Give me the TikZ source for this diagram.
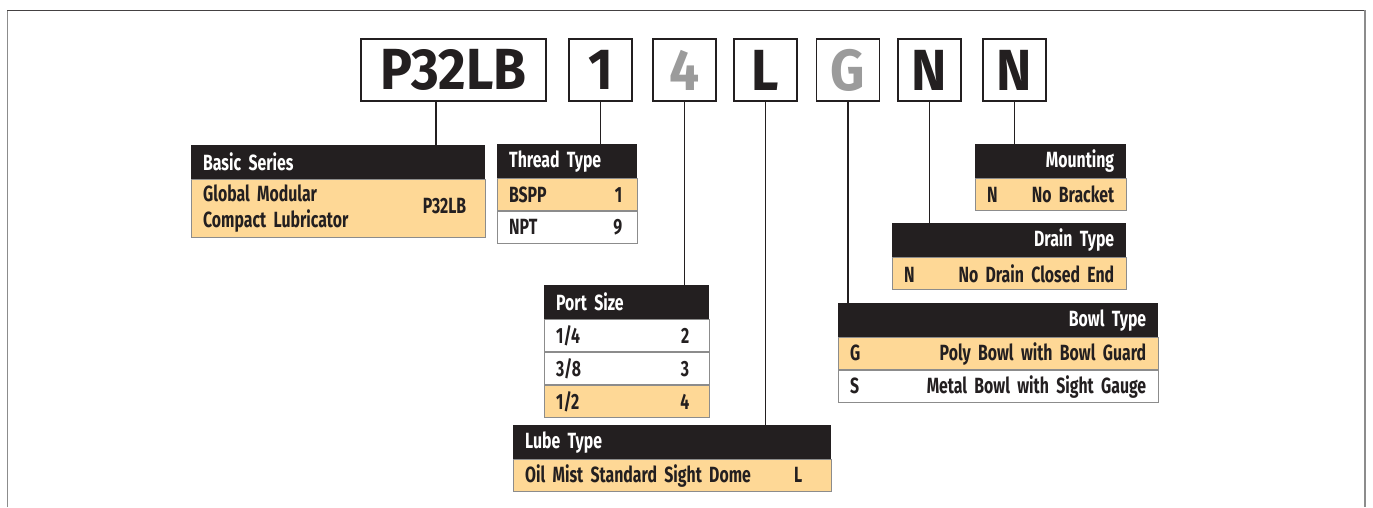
\documentclass[tikz,border=0pt]{standalone}
\usepackage{fontspec}
\setmainfont{Fira Sans}[FakeStretch=0.72]
\newfontfamily\codefont{Fira Sans}[FakeStretch=0.92]
\usetikzlibrary{positioning}
\definecolor{ink}{RGB}{35,31,32}
\definecolor{band}{RGB}{254,216,150}
\definecolor{rule}{RGB}{140,140,140}
\definecolor{dim}{RGB}{155,155,155}

\begin{document}
\begin{tikzpicture}[
    x=1pt, y=-1pt,
    codebox/.style={draw=ink, line width=1.6pt, minimum width=63pt, minimum height=62pt, inner sep=0pt, text=ink, font=\codefont\bfseries\fontsize{58}{58}\selectfont},
    hdr/.style={fill=ink, text=white, minimum height=34pt, inner xsep=12pt, inner ysep=0pt, align=left, anchor=north west, font=\bfseries\fontsize{22}{23}\selectfont},
    hdrr/.style={hdr, align=right},
    rowo/.style={fill=band, draw=rule, line width=0.8pt, minimum height=32pt, inner xsep=12pt, inner ysep=0pt, align=left, text=ink, font=\bfseries\fontsize{22}{23}\selectfont},
    roww/.style={rowo, fill=white},
    link/.style={draw=ink, line width=1.8pt},
]
\useasboundingbox (0,0) rectangle (1373,507);

% frame
\draw[rule, line width=1pt] (7,507) -- (7,10);
\draw[ink!85, line width=1pt] (7,10) -- (1365,10);
\draw[rule, line width=1.2pt] (1365,10) -- (1365,507);

% model code
\node[codebox, minimum width=185pt] (cSeries) at (453.5,70) {P32LB};
\node[codebox] (cThread) at (600.5,70) {1};
\node[codebox, text=dim] (cPort) at (684.5,70) {4};
\node[codebox] (cLube) at (765.5,70) {L};
\node[codebox, text=dim] (cBowl) at (848,70) {G};
\node[codebox] (cDrain) at (929.5,70) {N};
\node[codebox] (cMount) at (1014.5,70) {N};

% basic series
\node[hdr, text width=270pt] (hdSeries) at (191,145) {Basic Series};
\node[rowo, text width=270pt, minimum height=58pt, below=0pt of hdSeries, font=\bfseries\fontsize{22}{26}\selectfont] (rSeries)
    {\begin{tabular}{@{}l@{}}Global Modular\\Compact Lubricator\end{tabular}\hfill P32LB\kern7pt};

% thread type
\node[hdr, text width=116pt] (hdThread) at (497,144) {Thread Type};
\node[rowo, text width=116pt, below=0pt of hdThread] (rBspp) {BSPP\hfill 1\kern3pt};
\node[roww, text width=116pt, below=0pt of rBspp] (rNpt) {NPT\hfill 9\kern3pt};

% port size
\node[hdr, text width=141pt] (hdPort) at (544,285) {Port Size};
\node[roww, text width=141pt, below=0pt of hdPort] (rQuarter) {1/4\hfill 2\kern8pt};
\node[roww, text width=141pt, below=0pt of rQuarter] (rThreeEighth) {3/8\hfill 3\kern8pt};
\node[rowo, text width=141pt, below=0pt of rThreeEighth] (rHalf) {1/2\hfill 4\kern8pt};

% lube type
\node[hdr, text width=294pt] (hdLube) at (513,425) {Lube Type};
\node[rowo, text width=294pt, below=0pt of hdLube] (rMist) {Oil Mist Standard Sight Dome\hfill L\kern17pt};

% bowl type
\node[hdrr, text width=296pt] (hdBowl) at (838,303) {Bowl Type};
\node[rowo, text width=296pt, below=0pt of hdBowl] (rPoly) {G\hfill Poly Bowl with Bowl Guard};
\node[roww, text width=296pt, below=0pt of rPoly] (rMetal) {S\hfill Metal Bowl with Sight Gauge};

% drain type
\node[hdrr, text width=210pt] (hdDrain) at (892,223) {Drain Type};
\node[rowo, text width=210pt, below=0pt of hdDrain] (rNoDrain) {N\hfill No Drain Closed End};

% mounting
\node[hdrr, text width=127pt] (hdMount) at (975,144) {Mounting};
\node[rowo, text width=127pt, below=0pt of hdMount] (rNoBracket) {N\hfill No Bracket};

% leaders
\coordinate (tSeries) at ([xshift=-17.5pt]cSeries.south);
\draw[link] (tSeries) -- (tSeries |- hdSeries.north);
\draw[link] (cThread.south) -- (cThread.south |- hdThread.north);
\draw[link] (cPort.south) -- (cPort.south |- hdPort.north);
\draw[link] (cLube.south) -- (cLube.south |- hdLube.north);
\draw[link] (cBowl.south) -- (cBowl.south |- hdBowl.north);
\draw[link] (cDrain.south) -- (cDrain.south |- hdDrain.north);
\draw[link] (cMount.south) -- (cMount.south |- hdMount.north);

\end{tikzpicture}
\end{document}
